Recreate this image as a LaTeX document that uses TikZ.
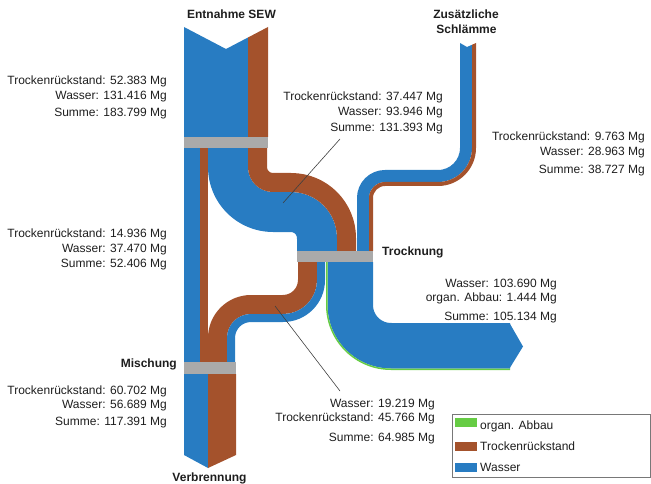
\documentclass[tikz,border=0pt]{standalone}
\usepackage{fontspec}
\setmainfont{Liberation Sans}
\definecolor{blueC}{RGB}{40,124,194}
\definecolor{brownC}{RGB}{164,82,44}
\definecolor{grayC}{RGB}{170,170,170}
\definecolor{greenC}{RGB}{102,204,68}
\definecolor{txtC}{RGB}{30,30,30}
\definecolor{frameC}{RGB}{120,120,120}
\tikzset{
  band/.style={line cap=butt, line join=round},
  wasser/.style={band, draw=blueC},
  trocken/.style={band, draw=brownC},
  abbau/.style={band, draw=greenC},
  barbox/.style={fill=grayC},
  lbl/.style={anchor=base east, inner sep=0pt, text=txtC, font=\fontsize{12}{14}\selectfont},
  lglbl/.style={anchor=base west, inner sep=0pt, text=txtC, font=\fontsize{12}{14}\selectfont},
  ttl/.style={inner sep=0pt, text=txtC, font=\bfseries\fontsize{12}{14}\selectfont},
  leader/.style={draw=black!75, line width=0.6pt},
}
\begin{document}
\begin{tikzpicture}[x=1pt,y=-1pt]
\useasboundingbox (0,0) rectangle (651,484);

% ---- Entnahme SEW inflow
\fill[blueC] (184,27) -- (226,49) -- (248,37.5) -- (248,137) -- (184,137) -- cycle;
\fill[brownC] (248,37.5) -- (268,27) -- (268,137) -- (248,137) -- cycle;

% straight columns to Mischung
\fill[blueC] (184,148) rectangle (200,362);
\fill[brownC] (200,148) rectangle (208,362);

% big stream to Trocknung
\draw[wasser, line width=40pt] (228,148) -- (228,167) to[out=-90,in=180] (273,212) -- (291,212) to[out=0,in=90] (317,238) -- (317,251);
\draw[trocken, line width=19pt] (257.5,148) -- (257.5,167) to[out=-90,in=180] (273,182.5) -- (291,182.5) to[out=0,in=90] (346.5,238) -- (346.5,251);

% ---- Zusaetzliche Schlaemme
\fill[blueC] (460,43) -- (467,47) -- (472,44.8) -- (472,50) -- (460,50) -- cycle;
\fill[brownC] (472,44.8) -- (476,43) -- (476,50) -- (472,50) -- cycle;
\draw[wasser, line width=12pt] (466,50) -- (466,148) to[out=-90,in=0] (438,176) -- (385,176) to[out=180,in=90] (363,198) -- (363,251);
\draw[trocken, line width=4pt] (474,50) -- (474,148) to[out=-90,in=0] (438,184) -- (385,184) to[out=180,in=90] (371,198) -- (371,251);

% ---- from Trocknung to Mischung
\draw[trocken, line width=19pt] (307.5,262) -- (307.5,280) to[out=-90,in=0] (283,304.5) -- (251,304.5) to[out=180,in=90] (217.5,338) -- (217.5,362);
\draw[wasser, line width=8pt] (321,262) -- (321,280) to[out=-90,in=0] (283,318) -- (251,318) to[out=180,in=90] (231,338) -- (231,362);

% ---- output of Trocknung
\draw[wasser, line width=45.5pt] (350.25,262) -- (350.25,305) to[out=-90,in=180] (391,345.75) -- (510,345.75);
\draw[abbau, line width=1.5pt] (326.75,262) -- (326.75,305) to[out=-90,in=180] (391,369.25) -- (510,369.25);
\fill[blueC] (509.5,323) -- (523,346.5) -- (509.5,368.5) -- cycle;

% ---- Verbrennung outflow
\fill[blueC] (184,374) -- (208,374) -- (208,468) -- (184,455) -- cycle;
\fill[brownC] (208,374) -- (236,374) -- (236,455) -- (208,468) -- cycle;

% ---- process bars
\fill[barbox] (184,137) rectangle (268,148);
\fill[barbox] (297,251) rectangle (373,262);
\fill[barbox] (184,362) rectangle (236,374);

% ---- titles
\node[ttl, anchor=base] (entnahme) at (231.5,19) {Entnahme SEW};
\node[ttl, anchor=base] (zus1) at (466,19) {Zusätzliche};
\node[ttl, anchor=base] (zus2) at (466.5,34) {Schlämme};
\node[ttl, anchor=base west] (trocknung) at (382,255) {Trocknung};
\node[ttl, anchor=base east] (mischung) at (177,367) {Mischung};
\node[ttl, anchor=base] (verbrennung) at (209.5,481) {Verbrennung};

% ---- value labels
\node[lbl] (a1) at (167,85) {Trockenrückstand: 52.383 Mg};
\node[lbl] (a2) at (167,100) {Wasser: 131.416 Mg};
\node[lbl] (a3) at (167,117) {Summe: 183.799 Mg};

\node[lbl] (b1) at (443,101) {Trockenrückstand: 37.447 Mg};
\node[lbl] (b2) at (443,116) {Wasser: 93.946 Mg};
\node[lbl] (b3) at (443,132) {Summe: 131.393 Mg};

\node[lbl] (c1) at (645,141) {Trockenrückstand: 9.763 Mg};
\node[lbl] (c2) at (645,156) {Wasser: 28.963 Mg};
\node[lbl] (c3) at (645,174) {Summe: 38.727 Mg};

\node[lbl] (d1) at (167,237) {Trockenrückstand: 14.936 Mg};
\node[lbl] (d2) at (167,252) {Wasser: 37.470 Mg};
\node[lbl] (d3) at (167,267) {Summe: 52.406 Mg};

\node[lbl] (e1) at (557,287) {Wasser: 103.690 Mg};
\node[lbl] (e2) at (557,301) {organ. Abbau: 1.444 Mg};
\node[lbl] (e3) at (557,320) {Summe: 105.134 Mg};

\node[lbl] (f1) at (167,394) {Trockenrückstand: 60.702 Mg};
\node[lbl] (f2) at (167,408) {Wasser: 56.689 Mg};
\node[lbl] (f3) at (167,425) {Summe: 117.391 Mg};

\node[lbl] (g1) at (435,407) {Wasser: 19.219 Mg};
\node[lbl] (g2) at (435,421) {Trockenrückstand: 45.766 Mg};
\node[lbl] (g3) at (435,441) {Summe: 64.985 Mg};

% ---- leader lines
\coordinate (l1a) at (340,139);
\coordinate (l1b) at (283,203);
\draw[leader] (l1a) -- (l1b);
\coordinate (l2a) at (275,306);
\coordinate (l2b) at (340,391);
\draw[leader] (l2a) -- (l2b);

% ---- legend
\draw[draw=frameC, line width=1pt, fill=white] (452,414) rectangle (650,477);
\fill[greenC] (455,418) rectangle (477,427);
\fill[brownC] (455,441.5) rectangle (477,450.5);
\fill[blueC] (455,462.5) rectangle (477,471.5);
\node[lglbl] (lg1) at (480,429) {organ. Abbau};
\node[lglbl] (lg2) at (480,450) {Trockenrückstand};
\node[lglbl] (lg3) at (480,471) {Wasser};
\end{tikzpicture}
\end{document}
